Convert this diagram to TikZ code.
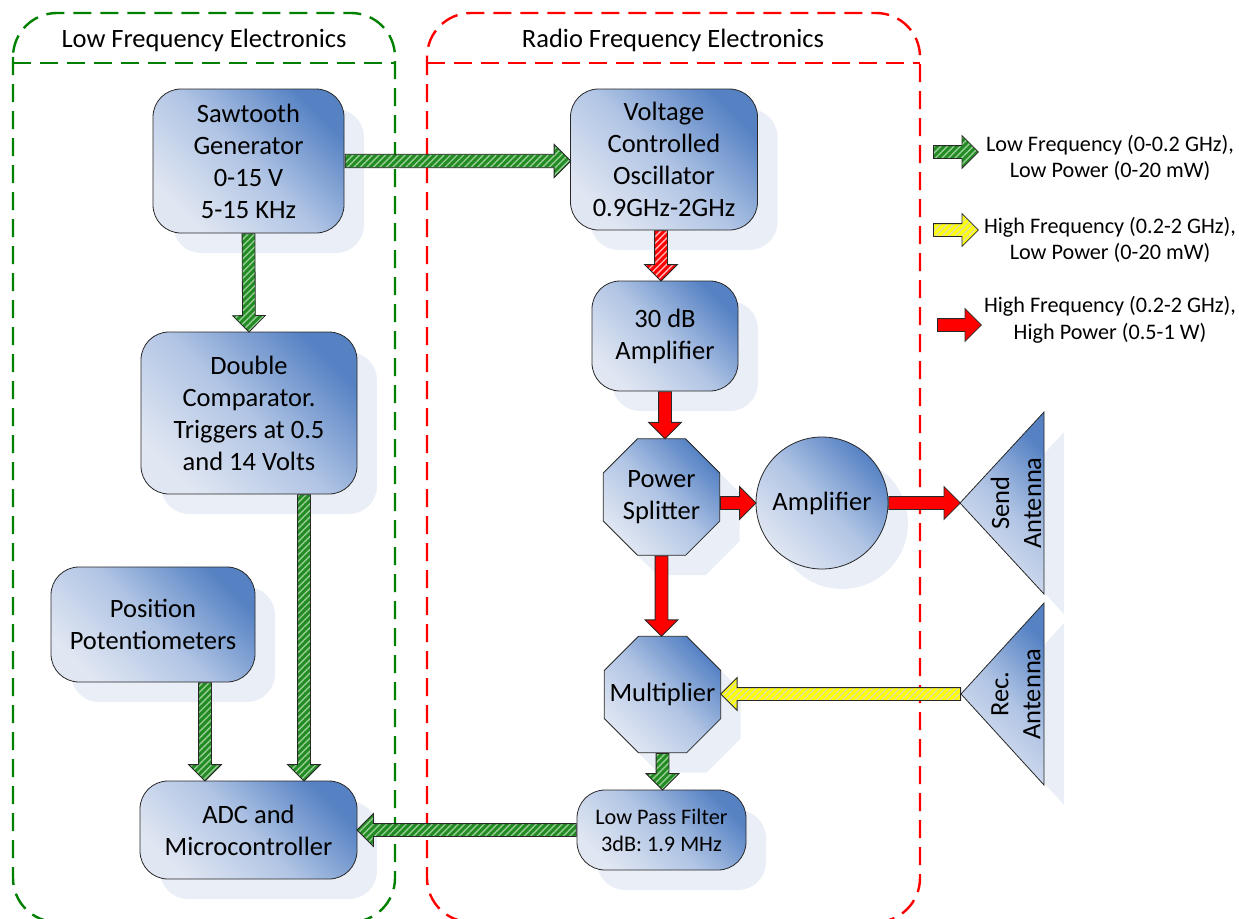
\documentclass[tikz,border=0pt]{standalone}
\usepackage{fontspec}
\setmainfont{Carlito}
\usetikzlibrary{shapes.geometric,shapes.arrows,shadows,patterns.meta,calc}

\definecolor{bdark}{RGB}{86,130,196}
\definecolor{bmid}{RGB}{176,196,228}
\definecolor{blight}{RGB}{224,230,242}
\definecolor{shcol}{RGB}{234,239,247}
\definecolor{sgreen}{RGB}{34,139,34}
\definecolor{sgreenlt}{RGB}{150,205,150}
\definecolor{sred}{RGB}{255,0,0}
\definecolor{sredlt}{RGB}{255,185,185}
\definecolor{syellow}{RGB}{255,255,0}
\definecolor{syellowlt}{RGB}{222,222,165}
\definecolor{lfgreen}{RGB}{0,128,0}
\definecolor{rfred}{RGB}{255,0,0}
\definecolor{edgecol}{RGB}{40,40,40}

\tikzset{
  shade box/.style={top color=bdark, bottom color=blight, middle color=bmid, shading angle=-45},
  boxshadow/.style={drop shadow={shadow xshift=20pt, shadow yshift=-20pt, fill=shcol, opacity=1}},
  bigfont/.style={font=\fontsize{26.5}{32}\selectfont},
  block/.style={rectangle, rounded corners=28pt, draw=edgecol, line width=0.8pt,
    shade box, boxshadow, inner sep=0pt, align=center, bigfont},
  octa/.style={regular polygon, regular polygon sides=8, minimum size=126pt,
    draw=edgecol, line width=0.8pt, shade box, boxshadow, inner sep=0pt, align=center, bigfont},
  roundblock/.style={circle, minimum size=132pt, draw=edgecol, line width=0.8pt,
    shade box, boxshadow, inner sep=0pt, align=center, bigfont},
  antenna/.style={draw=edgecol, line width=0.8pt, shade box, boxshadow},
  antlabel/.style={rotate=90, align=center, bigfont, inner sep=0pt},
  groupbox/.style={line width=2.4pt, dash pattern=on 18pt off 9pt, rounded corners=44pt},
  header/.style={bigfont, inner sep=0pt},
  legendtext/.style={font=\fontsize{22.2}{26.5}\selectfont, align=center, inner sep=0pt},
  sigbase/.style={single arrow, draw=edgecol, line width=0.8pt, inner xsep=0pt, inner ysep=6pt,
    single arrow head extend=10pt, single arrow tip angle=90},
  lowsig/.style={preaction={fill=sgreen}, pattern={Lines[angle=45,distance=4.6pt,line width=1.4pt]},
    pattern color=sgreenlt},
  hflsig/.style={preaction={fill=syellow}, pattern={Lines[angle=45,distance=4.6pt,line width=1.4pt]},
    pattern color=syellowlt},
  hfmsig/.style={preaction={fill=sred}, pattern={Lines[angle=45,distance=4.6pt,line width=1.4pt]},
    pattern color=sredlt},
  hfhsig/.style={fill=sred},
}

% block arrow from #2 to #3 in style #1
\newcommand\sigarrow[3]{%
  \path let \p1=#2, \p2=#3,
    \n1={veclen(\x2-\x1,\y2-\y1)}, \n2={atan2(\y2-\y1,\x2-\x1)} in
    node[sigbase,#1,minimum height=\n1,rotate=\n2,anchor=tail] at (\p1) {};}

\begin{document}
\begin{tikzpicture}[x=1pt,y=-1pt]
\useasboundingbox (0,0) rectangle (1239,918);

% group frames
\draw[groupbox, draw=lfgreen] (13,13) rectangle (395,922);
\draw[groupbox, draw=lfgreen, rounded corners=0pt] (13,63) -- (395,63);
\node[header] (lfhead) at (204,40) {Low Frequency Electronics};

\draw[groupbox, draw=rfred] (427,13) rectangle (920,922);
\draw[groupbox, draw=rfred, rounded corners=0pt] (427,63) -- (920,63);
\node[header] (rfhead) at (673,40) {Radio Frequency Electronics};

% low frequency blocks
\node[block, minimum width=191pt, minimum height=144pt] (saw) at (248.5,161)
  {Sawtooth\\Generator\\0-15 V\\5-15 KHz};
\node[block, minimum width=216pt, minimum height=162pt] (cmp) at (249,413)
  {Double\\Comparator.\\Triggers at 0.5\\and 14 Volts};
\node[block, minimum width=204pt, minimum height=115pt] (pot) at (153,624.5)
  {Position\\Potentiometers};
\node[block, minimum width=217pt, minimum height=98pt] (adc) at (248.5,830)
  {ADC and\\Microcontroller};

% radio frequency blocks
\node[block, minimum width=187pt, minimum height=141pt] (vco) at (664,159.5)
  {Voltage\\Controlled\\Oscillator\\0.9GHz-2GHz};
\node[block, minimum width=146pt, minimum height=110pt] (amp30) at (665,336)
  {30 dB\\Amplifier};
\node[octa] (split) at (661.5,497) {Power\\Splitter};
\node[roundblock] (amp) at (822,503) {Amplifier};
\node[octa] (mult) at (662.5,694.5) {\makebox[0pt]{Multiplier}};
\node[block, minimum width=169pt, minimum height=80pt,
  font=\fontsize{22.2}{27}\selectfont] (lpf) at (661.5,830)
  {Low Pass Filter\\3dB: 1.9 MHz};

% antennas
\coordinate (sendtip) at (960,503);
\path[antenna] (sendtip) -- ++(84,-91) -- ++(0,182) -- cycle;
\node[antlabel] (sendlbl) at (1016,503) {Send\\Antenna};
\coordinate (rectip) at (961,694);
\path[antenna] (rectip) -- ++(83,-91) -- ++(0,182) -- cycle;
\node[antlabel] (reclbl) at (1016,694) {Rec.\\Antenna};

% signal paths
\sigarrow{lowsig}{(saw.east)}{(saw.east -| vco.west)}
\sigarrow{lowsig}{(saw.south)}{(cmp.north)}
\sigarrow{lowsig}{([xshift=55pt]cmp.south)}{([xshift=55pt]cmp.south |- adc.north)}
\sigarrow{lowsig}{([xshift=52pt]pot.south)}{([xshift=52pt]pot.south |- adc.north)}
\sigarrow{lowsig}{(lpf.west)}{(lpf.west -| adc.east)}
\sigarrow{hfmsig}{([xshift=-3pt]vco.south)}{([xshift=-3pt]vco.south |- amp30.north)}
\sigarrow{hfhsig}{(amp30.south)}{(amp30.south |- split.north)}
\sigarrow{hfhsig}{(amp.west -| split.east)}{(amp.west)}
\sigarrow{hfhsig}{(amp.east)}{(sendtip)}
\sigarrow{hfhsig}{(split.south)}{(split.south |- mult.north)}
\sigarrow{hflsig}{(rectip)}{(rectip -| mult.east)}
\sigarrow{lowsig}{(mult.south)}{(mult.south |- lpf.north)}

% legend
\coordinate (lg1s) at (933,152); \coordinate (lg1e) at (978,152);
\sigarrow{lowsig}{(lg1s)}{(lg1e)}
\node[legendtext] (lg1txt) at (1110,158) {Low Frequency (0-0.2 GHz),\\Low Power (0-20 mW)};
\coordinate (lg2s) at (933,230); \coordinate (lg2e) at (978,230);
\sigarrow{hflsig}{(lg2s)}{(lg2e)}
\node[legendtext] (lg2txt) at (1110,240) {High Frequency (0.2-2 GHz),\\Low Power (0-20 mW)};
\coordinate (lg3s) at (937,325); \coordinate (lg3e) at (981,325);
\sigarrow{hfhsig}{(lg3s)}{(lg3e)}
\node[legendtext] (lg3txt) at (1110,320) {High Frequency (0.2-2 GHz),\\High Power (0.5-1 W)};
\end{tikzpicture}
\end{document}
